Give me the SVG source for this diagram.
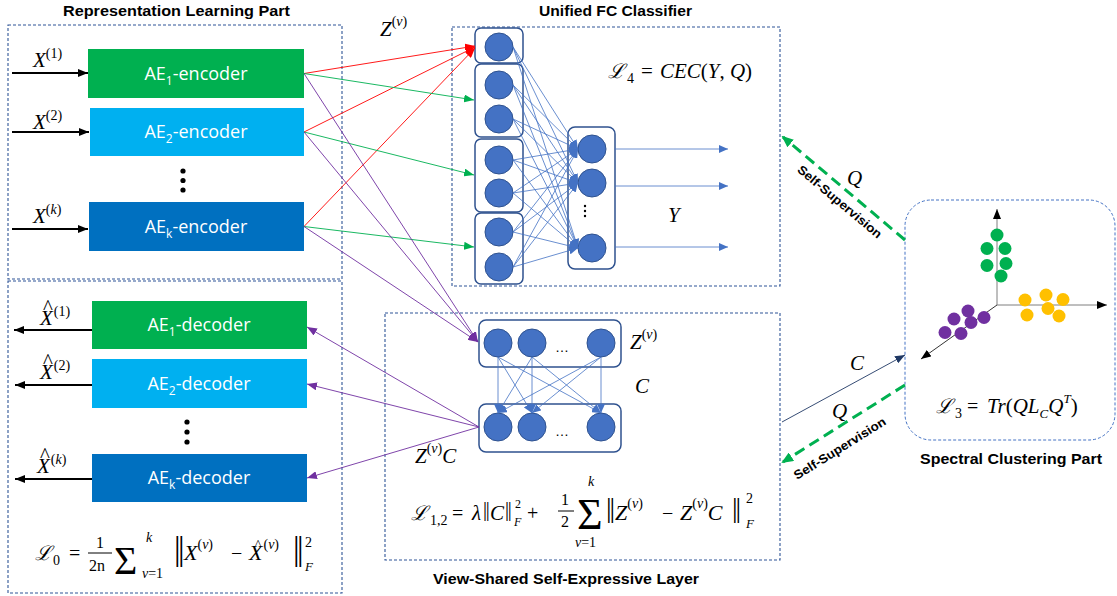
<svg xmlns="http://www.w3.org/2000/svg" width="1117" height="596" viewBox="0 0 1117 596">
<style>
.title{font-family:"Liberation Sans",Arial,sans-serif;font-weight:bold;font-size:15.5px;fill:#000}
.ae{font-family:"Open Sans","Liberation Sans",sans-serif;font-size:18px;fill:#fff}
.m{font-family:"Liberation Serif","DejaVu Serif",serif;font-style:italic;font-size:21px;fill:#000}
.r{font-style:normal}
.nrm{font-family:"Liberation Serif",serif;font-style:normal}
.box{fill:none;stroke:#2F5597;stroke-width:1.1;stroke-dasharray:3 2}
.grp{fill:#fff;stroke:#2F528F;stroke-width:1.5}
.nd{fill:#4472C4;stroke:#2F528F;stroke-width:1}
.bl{stroke:#4472C4;stroke-width:0.8;fill:none}
.red{stroke:#FF0000;stroke-width:0.9;fill:none}
.grn{stroke:#00B050;stroke-width:0.9;fill:none}
.pur{stroke:#7030A0;stroke-width:0.9;fill:none}
.blk{stroke:#000;stroke-width:2;fill:none}
.ss{font-family:"Liberation Sans",Arial,sans-serif;font-weight:bold;font-size:12.5px;fill:#000}
</style>
<defs>
<marker id="aR" markerUnits="userSpaceOnUse" markerWidth="10" markerHeight="8" refX="10" refY="4" orient="auto"><path d="M0,0 L10,4 L0,8 z" fill="#FF0000"/></marker>
<marker id="aG" markerUnits="userSpaceOnUse" markerWidth="10" markerHeight="8" refX="10" refY="4" orient="auto"><path d="M0,0 L10,4 L0,8 z" fill="#00B050"/></marker>
<marker id="aP" markerUnits="userSpaceOnUse" markerWidth="10" markerHeight="8" refX="10" refY="4" orient="auto"><path d="M0,0 L10,4 L0,8 z" fill="#7030A0"/></marker>
<marker id="aB" markerUnits="userSpaceOnUse" markerWidth="9" markerHeight="8" refX="9" refY="4" orient="auto"><path d="M0,0 L9,4 L0,8 z" fill="#4472C4"/></marker>
<marker id="aK" markerUnits="userSpaceOnUse" markerWidth="10" markerHeight="8" refX="10" refY="4" orient="auto"><path d="M0,0 L10,4 L0,8 z" fill="#000"/></marker>
<marker id="aN" markerUnits="userSpaceOnUse" markerWidth="10" markerHeight="8" refX="10" refY="4" orient="auto"><path d="M0,0 L10,4 L0,8 z" fill="#1F3864"/></marker>
<marker id="aGD" markerUnits="userSpaceOnUse" markerWidth="12" markerHeight="10" refX="10" refY="5" orient="auto"><path d="M0,0 L12,5 L0,10 z" fill="#00B050"/></marker>
<marker id="aX" markerUnits="userSpaceOnUse" markerWidth="10" markerHeight="8" refX="10" refY="4" orient="auto"><path d="M0,0 L10,4 L0,8 z" fill="#000"/></marker>
</defs>
<rect width="1117" height="596" fill="#fff"/>

<!-- Section boxes -->
<g id="representation-part">
<rect class="box" x="8" y="25" width="334" height="254"/>
<rect class="box" x="8" y="281" width="334" height="312"/>
<text class="title" x="63" y="16" textLength="227" lengthAdjust="spacingAndGlyphs">Representation Learning Part</text>
</g>
<g id="fc-part">
<rect class="box" x="452" y="27" width="328" height="259"/>
<text class="title" x="539" y="16" textLength="153" lengthAdjust="spacingAndGlyphs">Unified FC Classifier</text>
</g>
<g id="se-part">
<rect class="box" x="385" y="313" width="395" height="247"/>
<text class="title" x="433" y="584" textLength="266" lengthAdjust="spacingAndGlyphs">View-Shared Self-Expressive Layer</text>
</g>
<g id="spectral-part">
<rect x="905" y="200" width="210" height="240" rx="26" fill="none" stroke="#4472C4" stroke-width="1" stroke-dasharray="3 2"/>
<text class="title" x="920" y="464" textLength="182" lengthAdjust="spacingAndGlyphs">Spectral Clustering Part</text>
</g>

<!-- Encoders -->
<g id="enc1"><rect x="88" y="49" width="216" height="49" fill="#00B050"/><text class="ae" x="196" y="80" text-anchor="middle">AE<tspan font-size="12" dy="5">1</tspan><tspan dy="-5">-encoder</tspan></text></g>
<g id="enc2"><rect x="90" y="108" width="214" height="48" fill="#00B0F0"/><text class="ae" x="196" y="138" text-anchor="middle">AE<tspan font-size="12" dy="5">2</tspan><tspan dy="-5">-encoder</tspan></text></g>
<g id="enck"><rect x="89" y="202" width="215" height="49" fill="#0070C0"/><text class="ae" x="196" y="233" text-anchor="middle">AE<tspan font-size="12" dy="5">k</tspan><tspan dy="-5">-encoder</tspan></text></g>
<g id="enc-dots" fill="#000"><circle cx="183" cy="171" r="2.6"/><circle cx="183" cy="180.5" r="2.6"/><circle cx="183" cy="190" r="2.6"/></g>

<!-- Decoders -->
<g id="dec1"><rect x="92" y="301" width="215" height="48" fill="#00B050"/><text class="ae" x="199" y="331" text-anchor="middle">AE<tspan font-size="12" dy="5">1</tspan><tspan dy="-5">-decoder</tspan></text></g>
<g id="dec2"><rect x="92" y="359" width="215" height="49" fill="#00B0F0"/><text class="ae" x="199" y="390" text-anchor="middle">AE<tspan font-size="12" dy="5">2</tspan><tspan dy="-5">-decoder</tspan></text></g>
<g id="deck"><rect x="92" y="454" width="215" height="48" fill="#0070C0"/><text class="ae" x="199" y="484" text-anchor="middle">AE<tspan font-size="12" dy="5">k</tspan><tspan dy="-5">-decoder</tspan></text></g>
<g id="dec-dots" fill="#000"><circle cx="187" cy="422" r="2.6"/><circle cx="187" cy="432" r="2.6"/><circle cx="187" cy="442" r="2.6"/></g>

<!-- Input / output labels -->
<g id="x-labels">
<text class="m" x="33" y="67" font-size="20">X<tspan class="r" font-size="14" dy="-9">(1)</tspan></text>
<text class="m" x="33" y="129" font-size="20">X<tspan class="r" font-size="14" dy="-9">(2)</tspan></text>
<text class="m" x="33" y="223" font-size="20">X<tspan class="r" font-size="14" dy="-9">(</tspan><tspan font-size="14">k</tspan><tspan class="r" font-size="14">)</tspan></text>
<text class="m" x="40" y="325" font-size="20">X<tspan class="r" font-size="14" dy="-9" dx="1">(1)</tspan></text>
<text class="r m" x="48" y="314" font-size="13" text-anchor="middle">^</text>
<text class="m" x="40" y="379" font-size="20">X<tspan class="r" font-size="14" dy="-9" dx="1">(2)</tspan></text>
<text class="r m" x="48" y="368" font-size="13" text-anchor="middle">^</text>
<text class="m" x="37" y="473" font-size="20">X<tspan class="r" font-size="14" dy="-9" dx="1">(</tspan><tspan font-size="14">k</tspan><tspan class="r" font-size="14">)</tspan></text>
<text class="r m" x="45" y="462" font-size="13" text-anchor="middle">^</text>
</g>

<!-- FC classifier nodes -->
<g id="fc-col1">
<rect class="grp" x="475" y="28" width="48" height="35" rx="6"/>
<rect class="grp" x="475" y="64" width="48" height="73" rx="6"/>
<rect class="grp" x="475" y="139" width="48" height="73" rx="6"/>
<rect class="grp" x="475" y="213" width="48" height="71" rx="6"/>
<circle class="nd" cx="499" cy="47" r="14"/>
<circle class="nd" cx="499" cy="85" r="14"/>
<circle class="nd" cx="499" cy="119" r="14"/>
<circle class="nd" cx="499" cy="160" r="14"/>
<circle class="nd" cx="499" cy="193" r="14"/>
<circle class="nd" cx="499" cy="232" r="14"/>
<circle class="nd" cx="499" cy="267" r="14"/>
</g>
<g id="fc-col2">
<rect class="grp" x="568" y="127" width="47" height="142" rx="7"/>
<circle class="nd" cx="592" cy="149" r="14"/>
<circle class="nd" cx="592" cy="183" r="14"/>
<circle class="nd" cx="592" cy="248" r="14"/>
<g fill="#000"><circle cx="585" cy="206" r="1.2"/><circle cx="585" cy="211" r="1.2"/><circle cx="585" cy="216" r="1.2"/></g>
</g>

<!-- Self-expressive nodes -->
<g id="se-top">
<rect class="grp" x="479" y="320" width="142" height="47" rx="7"/>
<circle class="nd" cx="498" cy="343" r="14"/>
<circle class="nd" cx="532" cy="343" r="14"/>
<circle class="nd" cx="601" cy="343" r="14"/>
<text x="562" y="352" font-family="Liberation Sans,sans-serif" font-size="14" text-anchor="middle">…</text>
</g>
<g id="se-bot">
<rect class="grp" x="479" y="404" width="142" height="48" rx="7"/>
<circle class="nd" cx="498" cy="427" r="14"/>
<circle class="nd" cx="532" cy="427" r="14"/>
<circle class="nd" cx="601" cy="427" r="14"/>
<text x="562" y="436" font-family="Liberation Sans,sans-serif" font-size="14" text-anchor="middle">…</text>
</g>

<!-- Spectral scatter -->
<g id="scatter">
<line x1="997" y1="305" x2="997" y2="209" stroke="#7f7f7f" stroke-width="1" marker-end="url(#aX)"/>
<line x1="997" y1="305" x2="1107" y2="305" stroke="#7f7f7f" stroke-width="1" marker-end="url(#aX)"/>
<line x1="997" y1="305" x2="921" y2="359" stroke="#000" stroke-width="0.8" marker-end="url(#aX)"/>
<g fill="#00B050">
<circle cx="997" cy="235" r="6.5"/><circle cx="987" cy="248.5" r="6.5"/><circle cx="1005" cy="248.5" r="6.5"/><circle cx="987" cy="265.5" r="6.5"/><circle cx="1006" cy="263.5" r="6.5"/><circle cx="1001" cy="276" r="6.5"/>
</g>
<g fill="#FFC000">
<circle cx="1025" cy="300" r="6.5"/><circle cx="1046" cy="295" r="6.5"/><circle cx="1063" cy="299.5" r="6.5"/><circle cx="1027" cy="315" r="6.5"/><circle cx="1048" cy="308.5" r="6.5"/><circle cx="1059" cy="316" r="6.5"/>
</g>
<g fill="#7030A0">
<circle cx="968" cy="311" r="6.5"/><circle cx="954" cy="319" r="6.5"/><circle cx="971" cy="322.5" r="6.5"/><circle cx="984" cy="317.5" r="6.5"/><circle cx="945" cy="332.5" r="6.5"/><circle cx="961" cy="333.5" r="6.5"/>
</g>
</g>

<!-- Connectors -->
<g id="connectors">
<line class="blk" x1="12" y1="73" x2="88" y2="73" marker-end="url(#aK)"/>
<line class="blk" x1="12" y1="132" x2="89" y2="132" marker-end="url(#aK)"/>
<line class="blk" x1="12" y1="229" x2="88" y2="229" marker-end="url(#aK)"/>
<line class="blk" x1="92" y1="330" x2="14" y2="330" marker-end="url(#aK)"/>
<line class="blk" x1="92" y1="385" x2="15" y2="385" marker-end="url(#aK)"/>
<line class="blk" x1="92" y1="479" x2="15" y2="479" marker-end="url(#aK)"/>
<line class="red" x1="304" y1="73.5" x2="475" y2="46" marker-end="url(#aR)"/>
<line class="red" x1="304" y1="132" x2="475" y2="47" marker-end="url(#aR)"/>
<line class="red" x1="304" y1="226.5" x2="475" y2="48" marker-end="url(#aR)"/>
<line class="grn" x1="304" y1="73.5" x2="474" y2="100" marker-end="url(#aG)"/>
<line class="grn" x1="304" y1="132" x2="474" y2="175" marker-end="url(#aG)"/>
<line class="grn" x1="304" y1="226.5" x2="474" y2="247" marker-end="url(#aG)"/>
<line class="pur" x1="304" y1="73.5" x2="478" y2="342" marker-end="url(#aP)"/>
<line class="pur" x1="304" y1="132" x2="478" y2="342" marker-end="url(#aP)"/>
<line class="pur" x1="304" y1="226.5" x2="478" y2="342" marker-end="url(#aP)"/>
<line class="pur" x1="479" y1="427" x2="307" y2="327" marker-end="url(#aP)"/>
<line class="pur" x1="479" y1="427" x2="307" y2="384" marker-end="url(#aP)"/>
<line class="pur" x1="479" y1="427" x2="307" y2="478" marker-end="url(#aP)"/>
<g class="bl" marker-end="url(#aB)">
<line x1="513" y1="47" x2="578" y2="149"/><line x1="513" y1="47" x2="578" y2="183"/><line x1="513" y1="47" x2="578" y2="248"/>
<line x1="513" y1="85" x2="578" y2="149"/><line x1="513" y1="85" x2="578" y2="183"/><line x1="513" y1="85" x2="578" y2="248"/>
<line x1="513" y1="119" x2="578" y2="149"/><line x1="513" y1="119" x2="578" y2="183"/><line x1="513" y1="119" x2="578" y2="248"/>
<line x1="513" y1="160" x2="578" y2="149"/><line x1="513" y1="160" x2="578" y2="183"/><line x1="513" y1="160" x2="578" y2="248"/>
<line x1="513" y1="193" x2="578" y2="149"/><line x1="513" y1="193" x2="578" y2="183"/><line x1="513" y1="193" x2="578" y2="248"/>
<line x1="513" y1="232" x2="578" y2="149"/><line x1="513" y1="232" x2="578" y2="183"/><line x1="513" y1="232" x2="578" y2="248"/>
<line x1="513" y1="267" x2="578" y2="149"/><line x1="513" y1="267" x2="578" y2="183"/><line x1="513" y1="267" x2="578" y2="248"/>
<line x1="615" y1="149" x2="728" y2="149"/><line x1="615" y1="186" x2="728" y2="186"/><line x1="615" y1="247" x2="728" y2="247"/>
</g>
<g class="bl" marker-end="url(#aB)">
<line x1="498" y1="357" x2="498" y2="413"/><line x1="498" y1="357" x2="532" y2="413"/><line x1="498" y1="357" x2="601" y2="413"/>
<line x1="532" y1="357" x2="498" y2="413"/><line x1="532" y1="357" x2="532" y2="413"/><line x1="532" y1="357" x2="601" y2="413"/>
<line x1="601" y1="357" x2="498" y2="413"/><line x1="601" y1="357" x2="532" y2="413"/><line x1="601" y1="357" x2="601" y2="413"/>
</g>
<line x1="905" y1="240" x2="783" y2="137" stroke="#00B050" stroke-width="3" stroke-dasharray="11 6" marker-end="url(#aGD)"/>
<line x1="905" y1="385" x2="783" y2="462" stroke="#00B050" stroke-width="3" stroke-dasharray="11 6" marker-end="url(#aGD)"/>
<line x1="782" y1="422" x2="905" y2="355" stroke="#1F3864" stroke-width="0.9" marker-end="url(#aN)"/>
</g>

<!-- Labels -->
<g id="labels">
<text class="m" x="380" y="36">Z<tspan class="r" font-size="14" dy="-10">(</tspan><tspan font-size="14">v</tspan><tspan class="r" font-size="14">)</tspan></text>
<text class="m" x="630" y="349">Z<tspan class="r" font-size="14" dy="-10">(</tspan><tspan font-size="14">v</tspan><tspan class="r" font-size="14">)</tspan></text>
<text class="m" x="635" y="393">C</text>
<text class="m" x="415" y="463">Z<tspan class="r" font-size="14" dy="-10">(</tspan><tspan font-size="14">v</tspan><tspan class="r" font-size="14" dx="0">)</tspan><tspan dy="10">C</tspan></text>
<text class="m" x="668" y="222">Y</text>
<text class="m" x="847" y="185">Q</text>
<text class="m" x="850" y="370">C</text>
<text class="m" x="832" y="418">Q</text>
<text class="ss" transform="translate(837,205) rotate(40)" text-anchor="middle" textLength="106" lengthAdjust="spacingAndGlyphs">Self-Supervision</text>
<text class="ss" transform="translate(842,452) rotate(-32)" text-anchor="middle" textLength="106" lengthAdjust="spacingAndGlyphs">Self-Supervision</text>
</g>

<!-- Formulas -->
<g id="formula-L0" class="m">
<text x="35" y="560" font-size="20">ℒ</text>
<text class="r" x="53" y="565" font-size="14">0</text>
<text class="r" x="69" y="560" font-size="20">=</text>
<text class="r" x="96" y="548" font-size="16">1</text>
<line x1="88" y1="553" x2="112" y2="553" stroke="#000" stroke-width="1"/>
<text class="r" x="89" y="571" font-size="16">2n</text>
<text class="r" x="114" y="574" font-size="40">Σ</text>
<text x="146" y="542" font-size="14">k</text>
<text x="142" y="578" font-size="14">v<tspan class="r">=1</tspan></text>
<text class="nrm" x="174" y="560" font-size="33" letter-spacing="-2.6">||</text>
<text x="184" y="560" font-size="22">X<tspan class="r" font-size="14" dy="-11">(</tspan><tspan font-size="14">v</tspan><tspan class="r" font-size="14">)</tspan></text>
<text class="r" x="231" y="560" font-size="20">−</text>
<text x="249" y="560" font-size="22">X<tspan class="r" font-size="14" dy="-11" dx="1">(</tspan><tspan font-size="14">v</tspan><tspan class="r" font-size="14">)</tspan></text>
<text class="r" x="258" y="548" font-size="13" text-anchor="middle">^</text>
<text class="nrm" x="293" y="560" font-size="33" letter-spacing="-2.6">||</text>
<text class="r" x="305" y="547" font-size="14">2</text>
<text x="305" y="571" font-size="13">F</text>
</g>

<g id="formula-L4" class="m">
<text x="608" y="78" font-size="20">ℒ</text>
<text class="r" x="627" y="83" font-size="14">4</text>
<text class="r" x="641" y="78" font-size="21">=</text>
<text x="660" y="78" font-size="21" textLength="92" lengthAdjust="spacingAndGlyphs">CEC<tspan class="r">(</tspan>Y<tspan class="r">, </tspan>Q<tspan class="r">)</tspan></text>
</g>

<g id="formula-L12" class="m">
<text x="411" y="520" font-size="20">ℒ</text>
<text class="r" x="430" y="525" font-size="14">1,2</text>
<text class="r" x="452" y="520" font-size="20">=</text>
<text x="472" y="520" font-size="21">λ</text>
<text class="nrm" x="483" y="516" font-size="20" letter-spacing="-1.2">||</text>
<text x="490" y="520" font-size="21">C</text>
<text class="nrm" x="505" y="516" font-size="20" letter-spacing="-1.2">||</text>
<text class="r" x="515" y="508" font-size="12">2</text>
<text x="514" y="526" font-size="12">F</text>
<text class="r" x="527" y="520" font-size="20">+</text>
<text class="r" x="561" y="505" font-size="16">1</text>
<line x1="558" y1="511" x2="574" y2="511" stroke="#000" stroke-width="1"/>
<text class="r" x="561" y="527" font-size="16">2</text>
<text class="r" x="577" y="529" font-size="44">Σ</text>
<text x="588" y="486" font-size="14">k</text>
<text x="575" y="547" font-size="14">v<tspan class="r">=1</tspan></text>
<text class="nrm" x="606" y="517" font-size="28" letter-spacing="-2">||</text>
<text x="615" y="520" font-size="22">Z<tspan class="r" font-size="14" dy="-12">(</tspan><tspan font-size="14">v</tspan><tspan class="r" font-size="14">)</tspan></text>
<text class="r" x="662" y="520" font-size="20">−</text>
<text x="680" y="520" font-size="22">Z<tspan class="r" font-size="14" dy="-12">(</tspan><tspan font-size="14">v</tspan><tspan class="r" font-size="14">)</tspan><tspan dy="12">C</tspan></text>
<text class="nrm" x="732" y="517" font-size="28" letter-spacing="-2">||</text>
<text class="r" x="746" y="503" font-size="14">2</text>
<text x="746" y="528" font-size="13">F</text>
</g>

<g id="formula-L3" class="m">
<text x="936" y="413" font-size="20">ℒ</text>
<text class="r" x="955" y="418" font-size="14">3</text>
<text class="r" x="967" y="413" font-size="20">=</text>
<text x="987" y="413" font-size="21">Tr<tspan class="r">(</tspan>QL<tspan font-size="13" dy="5">C</tspan><tspan dy="-5">Q</tspan><tspan font-size="13" dy="-10">T</tspan><tspan class="r" dy="10">)</tspan></text>
</g>
</svg>
